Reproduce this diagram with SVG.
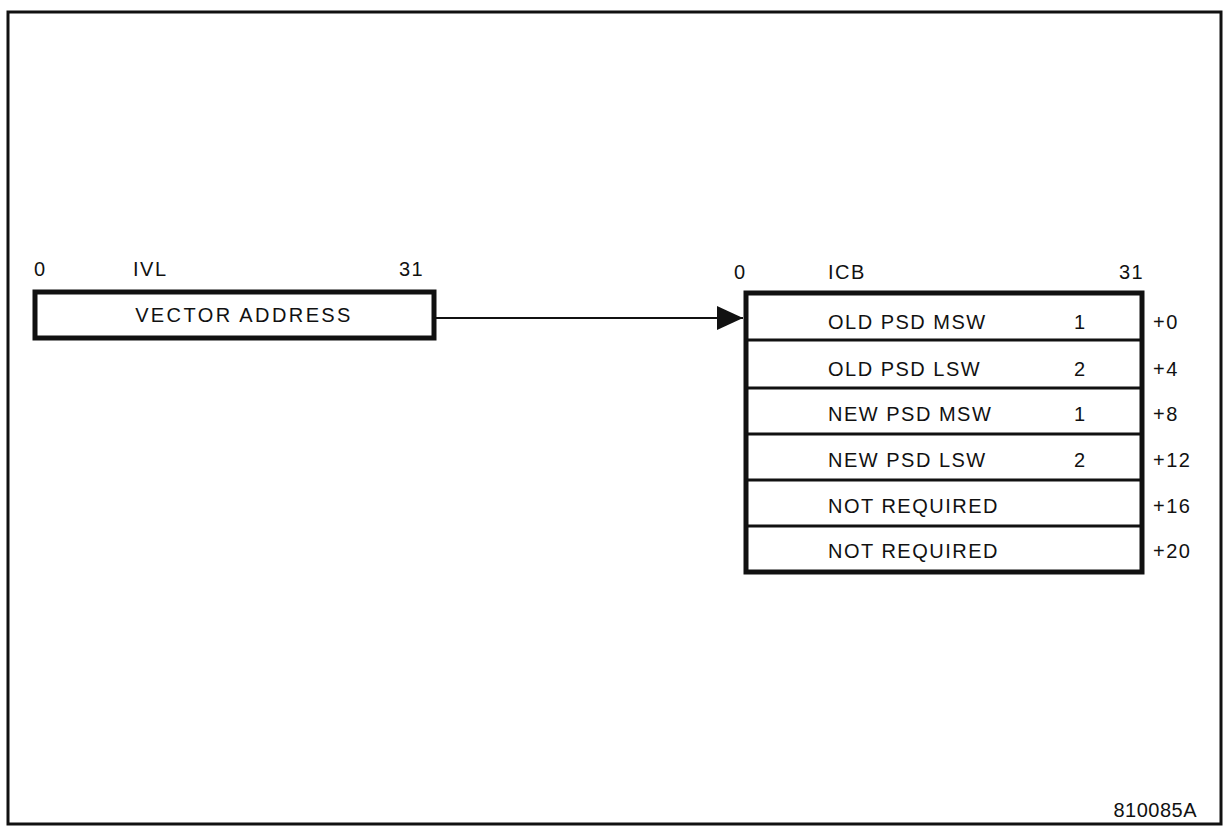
<svg xmlns="http://www.w3.org/2000/svg" width="1230" height="829" viewBox="0 0 1230 829">
<style>
text{font-family:"Liberation Sans",Arial,sans-serif;font-size:20px;fill:#111;letter-spacing:1.5px}
.box{fill:#fff;stroke:#111;stroke-width:5}
.div{stroke:#111;stroke-width:3}
</style>
<defs>
<marker id="ah" markerWidth="26" markerHeight="24" refX="26" refY="12" orient="auto" markerUnits="userSpaceOnUse">
<path d="M0,0 L26,12 L0,24 Z" fill="#111"/>
</marker>
</defs>
<rect x="0" y="0" width="1230" height="829" fill="#fff"/>
<rect x="8" y="12" width="1213" height="812" fill="none" stroke="#111" stroke-width="3"/>
<g id="ivl">
<text x="34" y="276">0</text>
<text x="133" y="276">IVL</text>
<text x="399" y="276">31</text>
<rect class="box" x="35" y="292" width="399" height="46"/>
<text x="244" y="322" text-anchor="middle" style="letter-spacing:2.4px">VECTOR ADDRESS</text>
</g>
<g id="icb">
<text x="734" y="279">0</text>
<text x="828" y="279">ICB</text>
<text x="1119" y="279">31</text>
<rect class="box" x="746" y="293" width="396" height="279"/>
<line class="div" x1="746" y1="340" x2="1140" y2="340"/>
<line class="div" x1="746" y1="388" x2="1140" y2="388"/>
<line class="div" x1="746" y1="434" x2="1140" y2="434"/>
<line class="div" x1="746" y1="480" x2="1140" y2="480"/>
<line class="div" x1="746" y1="526" x2="1140" y2="526"/>
<text x="828" y="329">OLD PSD MSW</text><text x="1074" y="329">1</text><text x="1153" y="329">+0</text>
<text x="828" y="376">OLD PSD LSW</text><text x="1074" y="376">2</text><text x="1153" y="376">+4</text>
<text x="828" y="421">NEW PSD MSW</text><text x="1074" y="421">1</text><text x="1153" y="421">+8</text>
<text x="828" y="467">NEW PSD LSW</text><text x="1074" y="467">2</text><text x="1153" y="467">+12</text>
<text x="828" y="513">NOT REQUIRED</text><text x="1153" y="513">+16</text>
<text x="828" y="558">NOT REQUIRED</text><text x="1153" y="558">+20</text>
</g>
<g id="connectors">
<line x1="436" y1="318" x2="743" y2="318" stroke="#111" stroke-width="2" marker-end="url(#ah)"/>
</g>
<text x="1197" y="817" text-anchor="end" style="letter-spacing:0.5px">810085A</text>
</svg>
